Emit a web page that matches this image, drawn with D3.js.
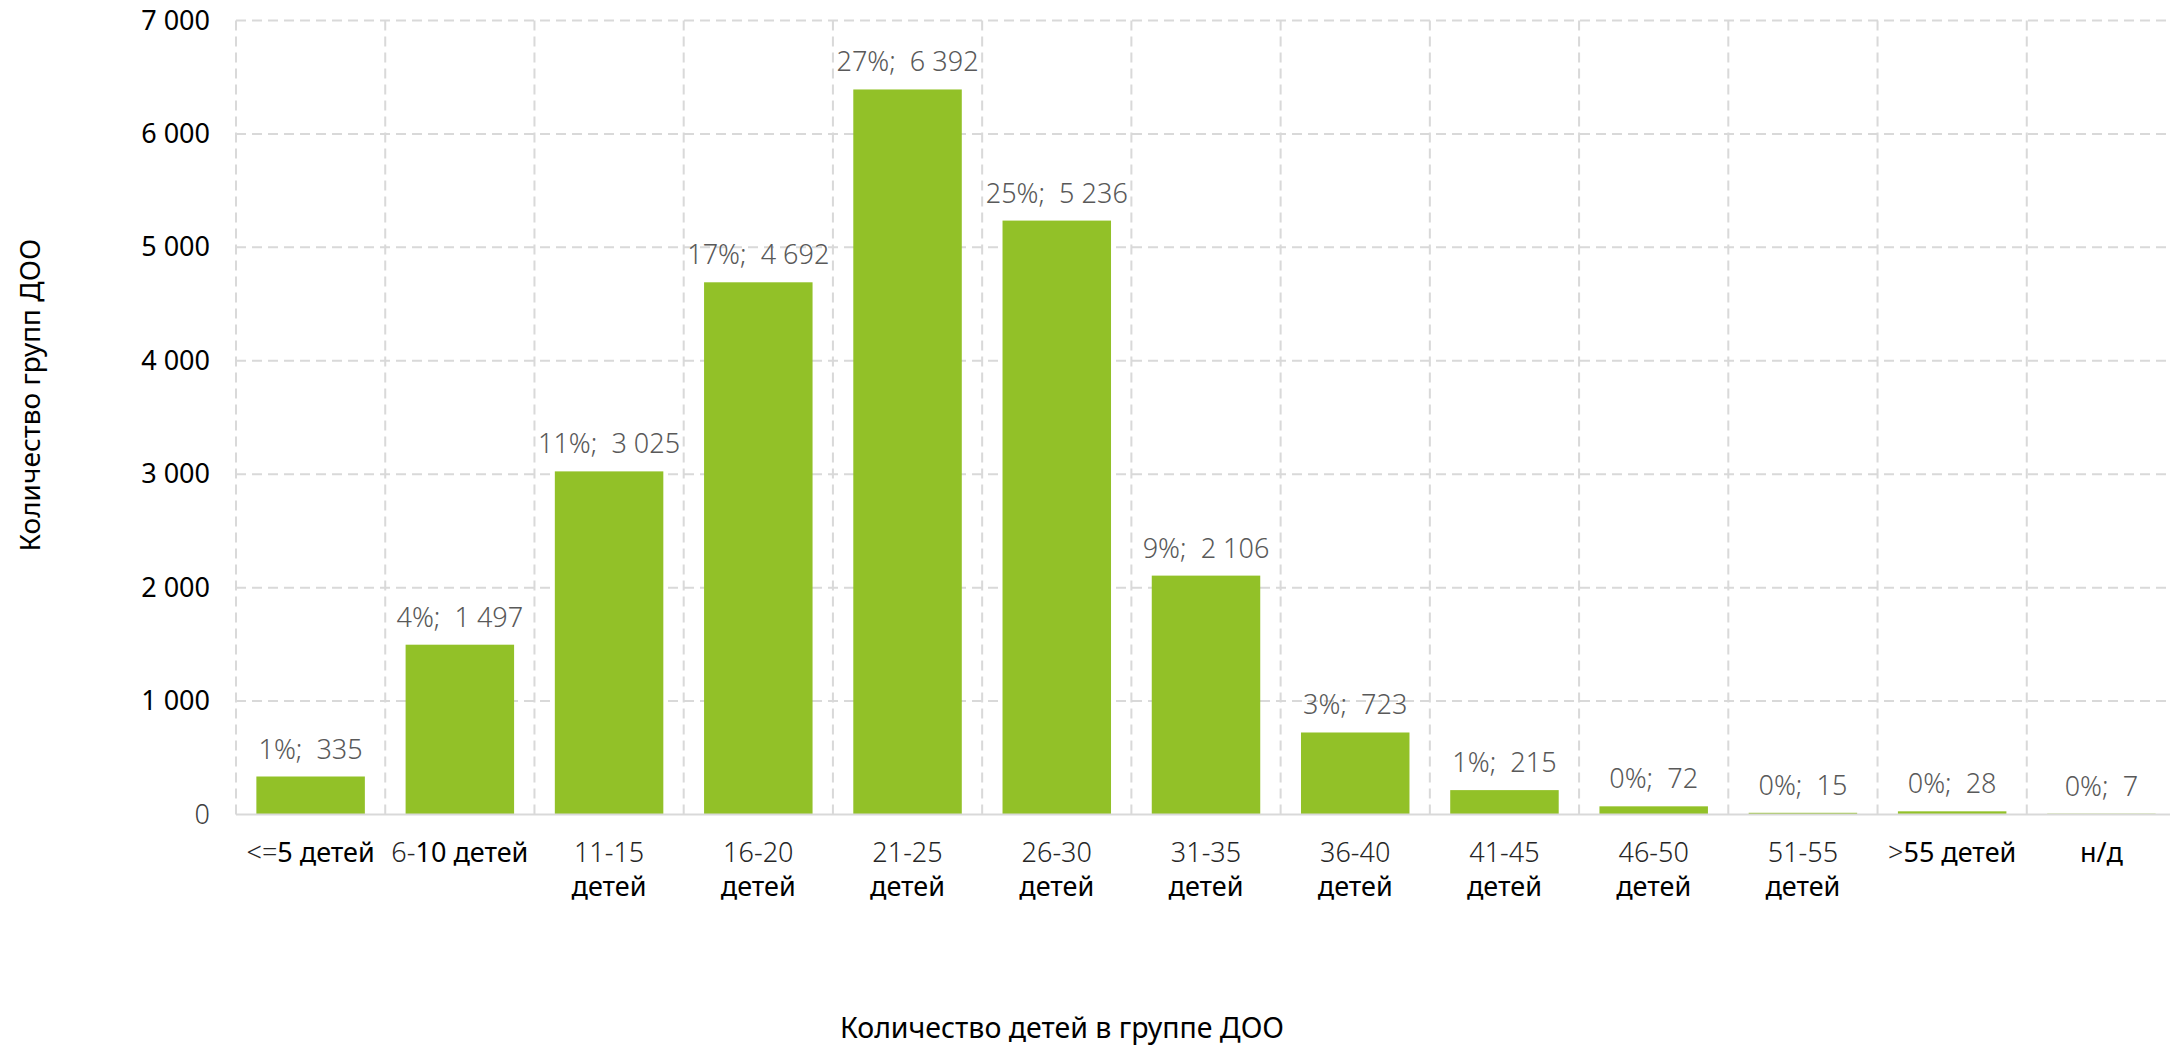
<!DOCTYPE html>
<html>
<head>
<meta charset="utf-8">
<script src="https://cdn.jsdelivr.net/npm/d3@7"></script>
<style>
	body { margin: 0; background: #fff; }
	svg { display: block; font-family: "Noto Sans", "Open Sans", sans-serif; }
</style>
</head>
<body>
<div id="chart"></div>
<script>
// данные диаграммы
const categories = ["<=5 детей", "6-10 детей", "11-15 детей", "16-20 детей", "21-25 детей", "26-30 детей",
	"31-35 детей", "36-40 детей", "41-45 детей", "46-50 детей", "51-55 детей", ">55 детей", "н/д"];
const values = [335, 1497, 3025, 4692, 6392, 5236, 2106, 723, 215, 72, 15, 28, 7];
const percents = [1, 4, 11, 17, 27, 25, 9, 3, 1, 0, 0, 0, 0];
const yTicks = [0, 1000, 2000, 3000, 4000, 5000, 6000, 7000];
const yTitle = "Количество групп ДОО";
const xTitle = "Количество детей в группе ДОО";

const width = 2170;
const height = 1050;
const plot = { left: 236, right: 2176, top: 20.5, bottom: 814.5 };
const barColor = "#92C128";
const gridColor = "#D9D9D9";

const fmt = (v) => d3.format(",")(v).replace(/,/g, " ");

const svg = d3
	.select("#chart")
	.append("svg")
	.attr("width", width)
	.attr("height", height);

const xScale = d3
	.scaleBand()
	.domain(categories)
	.range([plot.left, plot.right])
	.paddingInner(0.273)
	.paddingOuter(0.1365);

const yScale = d3
	.scaleLinear()
	.domain([0, 7000])
	.range([plot.bottom, plot.top]);

// сетка: горизонтальные линии
svg.append("g")
	.selectAll("line")
	.data(yTicks.filter((t) => t > 0))
	.enter()
	.append("line")
	.attr("x1", plot.left)
	.attr("x2", plot.right)
	.attr("y1", (d) => yScale(d))
	.attr("y2", (d) => yScale(d))
	.attr("stroke", gridColor)
	.attr("stroke-width", 2)
	.attr("stroke-dasharray", "10,6");

// сетка: вертикальные линии по границам категорий
const step = xScale.step();
const bounds = d3.range(categories.length + 1).map((i) => plot.left + i * step);
svg.append("g")
	.selectAll("line")
	.data(bounds)
	.enter()
	.append("line")
	.attr("x1", (d) => d)
	.attr("x2", (d) => d)
	.attr("y1", plot.top)
	.attr("y2", plot.bottom)
	.attr("stroke", gridColor)
	.attr("stroke-width", 2)
	.attr("stroke-dasharray", "10,6");

// столбцы
svg.append("g")
	.selectAll("rect")
	.data(values)
	.enter()
	.append("rect")
	.attr("x", (d, i) => xScale(categories[i]))
	.attr("y", (d) => yScale(d))
	.attr("width", xScale.bandwidth())
	.attr("height", (d) => plot.bottom - yScale(d))
	.attr("fill", barColor);

// ось X (линия)
svg.append("line")
	.attr("x1", plot.left)
	.attr("x2", plot.right)
	.attr("y1", plot.bottom)
	.attr("y2", plot.bottom)
	.attr("stroke", gridColor)
	.attr("stroke-width", 2);

// подписи данных
svg.append("g")
	.selectAll("text")
	.data(values)
	.enter()
	.append("text")
	.attr("x", (d, i) => xScale(categories[i]) + xScale.bandwidth() / 2)
	.attr("y", (d) => yScale(d) - 18)
	.attr("text-anchor", "middle")
	.attr("font-size", 27)
	.attr("font-weight", 300)
	.attr("fill", "#595959")
	.attr("xml:space", "preserve")
	.text((d, i) => `${percents[i]}%;  ${fmt(d)}`);

// ось Y
const yAxis = d3.axisLeft(yScale)
	.tickValues(yTicks)
	.tickSize(0)
	.tickPadding(26)
	.tickFormat(fmt);

const yAxisG = svg.append("g")
	.attr("transform", `translate(${plot.left}, 0)`)
	.call(yAxis);
yAxisG.select(".domain").remove();
yAxisG.selectAll("text")
	.attr("font-family", "Noto Sans, sans-serif")
	.attr("font-size", 27)
	.attr("font-weight", (d) => (d === 0 ? 300 : 400))
	.attr("fill", (d) => (d === 0 ? "#404040" : "#000"));

// подписи категорий
const xLabels = svg.append("g");
categories.forEach((name, i) => {
	const cx = xScale(name) + xScale.bandwidth() / 2;
	const wrap = name.length > 10;
	const lines = wrap ? name.split(" ") : [name];
	lines.forEach((line, j) => {
		const t = xLabels.append("text")
			.attr("x", cx)
			.attr("y", 862 + j * 33.5)
			.attr("text-anchor", "middle")
			.attr("font-size", 27)
			.attr("fill", "#000");
		let light = "";
		let rest = line;
		if (wrap && j === 0) {
			light = line;
			rest = "";
		} else {
			const m = line.match(/^([<>=]+|\d+-)/);
			if (m) {
				light = m[0];
				rest = line.slice(light.length);
			}
		}
		if (light) t.append("tspan").attr("font-weight", 300).attr("fill", "#262626").text(light);
		if (rest) t.append("tspan").attr("font-weight", 400).text(rest);
	});
});

// заголовки осей
svg.append("text")
	.attr("transform", "translate(40, 395) rotate(-90)")
	.attr("text-anchor", "middle")
	.attr("font-size", 28)
	.attr("fill", "#000")
	.text(yTitle);

svg.append("text")
	.attr("x", 1062)
	.attr("y", 1038)
	.attr("text-anchor", "middle")
	.attr("font-size", 28.5)
	.attr("fill", "#000")
	.text(xTitle);
</script>
</body>
</html>
